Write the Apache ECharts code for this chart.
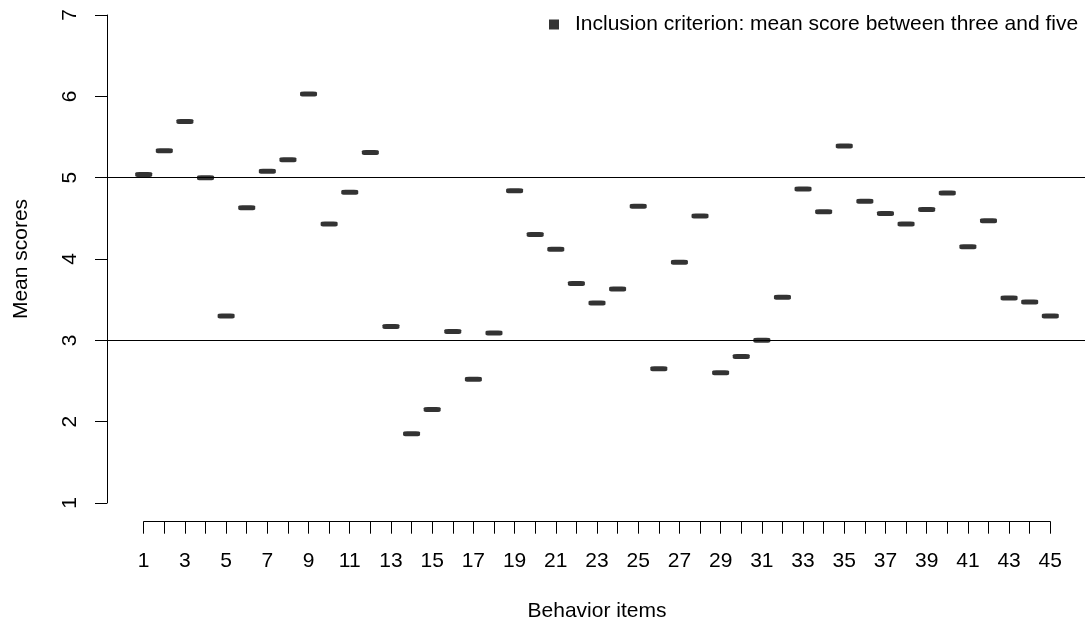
<!DOCTYPE html>
<html>
<head>
<meta charset="utf-8">
<script src="https://cdn.jsdelivr.net/npm/echarts@6/dist/echarts.min.js"></script>
<style>
html,body{margin:0;padding:0;background:#fff;}
#c{width:1085px;height:620px;}
</style>
</head>
<body>
<div id="c"></div>
<script>
const items = [1,2,3,4,5,6,7,8,9,10,11,12,13,14,15,16,17,18,19,20,21,22,23,24,25,26,27,28,29,30,31,32,33,34,35,36,37,38,39,40,41,42,43,44,45];
const meanScores = [5.04,5.33,5.69,5.00,3.30,4.63,5.08,5.22,6.03,4.43,4.82,5.31,3.17,1.85,2.15,3.11,2.52,3.09,4.84,4.30,4.12,3.70,3.46,3.63,4.65,2.65,3.96,4.53,2.60,2.80,3.00,3.53,4.86,4.58,5.39,4.71,4.56,4.43,4.61,4.81,4.15,4.47,3.52,3.47,3.30];
const yTicks = [1,2,3,4,5,6,7];
const criterionBounds = [3,5];
const legendLabel = 'Inclusion criterion: mean score between three and five';
const xTitle = 'Behavior items';
const yTitle = 'Mean scores';

const FONT = '"Liberation Sans", Arial, Helvetica, sans-serif';
const FS = 21;
const chart = echarts.init(document.getElementById('c'), null, {renderer:'canvas'});

const option = {
  animation: false,
  backgroundColor: '#fff',
  textStyle: {fontFamily: FONT, color: '#000'},
  grid: [
    {left: 143.7, right: 34.7, top: 15, bottom: 117, containLabel: false, outerBoundsMode: 'none'},
    {left: 107, right: 0, top: 15, bottom: 117, containLabel: false, outerBoundsMode: 'none'}
  ],
  legend: {
    data: [legendLabel],
    icon: 'rect',
    itemWidth: 10,
    itemHeight: 10,
    left: 544,
    top: 9,
    selectedMode: false,
    textStyle: {fontFamily: FONT, fontSize: FS, color: '#000', padding: [0,0,0,11]}
  },
  xAxis: [
    {
      gridIndex: 0, type: 'value', min: items[0], max: items[items.length-1], interval: 1,
      offset: 18.7,
      axisLine: {show: true, onZero: false, lineStyle: {color: '#000', width: 1}},
      axisTick: {show: true, length: 12, lineStyle: {color: '#000', width: 1}},
      axisLabel: {fontFamily: FONT, fontSize: FS, color: '#000', margin: 29,
        formatter: v => (v % 2 === 1 ? String(v) : '')},
      splitLine: {show: false},
      name: xTitle, nameLocation: 'middle', nameGap: 79,
      nameTextStyle: {fontFamily: FONT, fontSize: FS, color: '#000'}
    },
    {gridIndex: 1, type: 'value', min: 0, max: 1, show: false}
  ],
  yAxis: [
    {gridIndex: 0, type: 'value', min: yTicks[0], max: yTicks[yTicks.length-1], show: false},
    {
      gridIndex: 1, type: 'value', min: yTicks[0], max: yTicks[yTicks.length-1], interval: 1,
      axisLine: {show: true, onZero: false, lineStyle: {color: '#000', width: 1}},
      axisTick: {show: true, length: 12, lineStyle: {color: '#000', width: 1}},
      axisLabel: {fontFamily: FONT, fontSize: FS, color: '#000', rotate: 90, margin: 26},
      splitLine: {show: false},
      name: yTitle, nameLocation: 'middle', nameGap: 75, nameRotate: 90,
      nameTextStyle: {fontFamily: FONT, fontSize: FS, color: '#000'}
    }
  ],
  series: [
    {
      type: 'scatter',
      name: 'Mean score',
      xAxisIndex: 0, yAxisIndex: 0,
      symbol: 'roundRect',
      symbolSize: [17, 5],
      itemStyle: {color: '#000'},
      data: items.map((x, i) => [x, meanScores[i]])
    },
    {
      type: 'scatter',
      name: legendLabel,
      xAxisIndex: 1, yAxisIndex: 1,
      itemStyle: {color: '#000'},
      data: [],
      markLine: {
        silent: true,
        symbol: ['none', 'none'],
        label: {show: false},
        lineStyle: {color: '#000', width: 1, type: 'solid'},
        data: criterionBounds.map(v => ({yAxis: v}))
      }
    }
  ]
};
chart.setOption(option);
</script>
</body>
</html>
